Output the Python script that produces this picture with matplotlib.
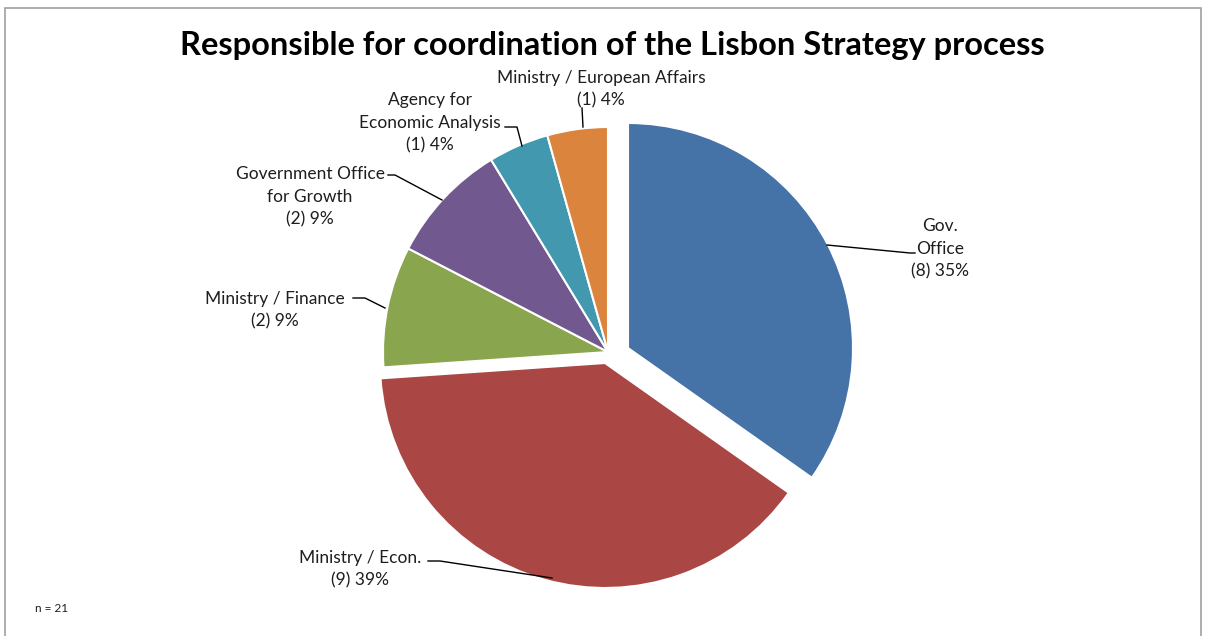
import matplotlib
matplotlib.use("Agg")
import matplotlib.pyplot as plt
from matplotlib.patches import Rectangle

# data (order = clockwise from 12 o'clock)
names = ["Gov.\nOffice", "Ministry / Econ.", "Ministry / Finance",
         "Government Office\nfor Growth", "Agency for\nEconomic Analysis",
         "Ministry / European Affairs"]
counts = [8, 9, 2, 2, 1, 1]
colors = ["#4572A7", "#AA4643", "#89A54E", "#71588F", "#4198AF", "#DB843D"]

# pulled-out slices: shift in pixels (right, down)
shift = [(20, -4), (-3, 11), (0, 0), (0, 0), (0, 0), (0, 0)]

# label placement and leader lines, in pixels from the top-left corner
label_pos = [(940, 249), (360, 569), (275, 310), (310, 197), (430, 123), (601, 89)]
leaders = [
    [(827, 245), (910, 253), (915, 253)],
    [(552, 578), (440, 561), (428, 561)],
    [(385, 308), (365, 298), (353, 298)],
    [(442, 200), (395, 175), (388, 175)],
    [(522, 146), (517, 127), (505, 127)],
    [(583, 127), (582, 108)],
]

W, H = 1207, 636
R = 225
CX, CY = 608, H - 352
plt.rcParams['font.family'] = ['Lato', 'DejaVu Sans']

fig = plt.figure(figsize=(W / 100, H / 100), dpi=100)
ax = fig.add_axes([0, 0, 1, 1])

total = sum(counts)
wedges, _ = ax.pie(counts, colors=colors, startangle=90, counterclock=False,
                   center=(CX, CY), radius=R,
                   wedgeprops=dict(edgecolor='white', linewidth=1.5))
for w, (dx, dy) in zip(wedges, shift):
    w.set_center((CX + dx, CY - dy))

# pie() changes limits, so set them afterwards
ax.set_xlim(0, W)
ax.set_ylim(0, H)
ax.set_aspect('equal')
ax.axis('off')

for name, c, (lx, ly), pts in zip(names, counts, label_pos, leaders):
    pct = round(100 * c / total)
    ax.text(lx, H - ly, f"{name}\n({c}) {pct}%", ha='center', va='center',
            fontsize=12.5, color='#1e1e1e', linespacing=1.5)
    ax.plot([p[0] for p in pts], [H - p[1] for p in pts], color='black', lw=1)

ax.text(612, H - 46, "Responsible for coordination of the Lisbon Strategy process",
        ha='center', va='center', fontsize=23.5, fontweight='bold', color='black')
ax.text(35, H - 609, "n = 21", ha='left', va='center', fontsize=8.5, color='#1e1e1e')

# chart frame
ax.add_patch(Rectangle((5, -10), 1196, H - 8 + 10, fill=False,
                       edgecolor='#A0A0A0', lw=1.2, clip_on=False))

fig.savefig("out.png", dpi=100)
